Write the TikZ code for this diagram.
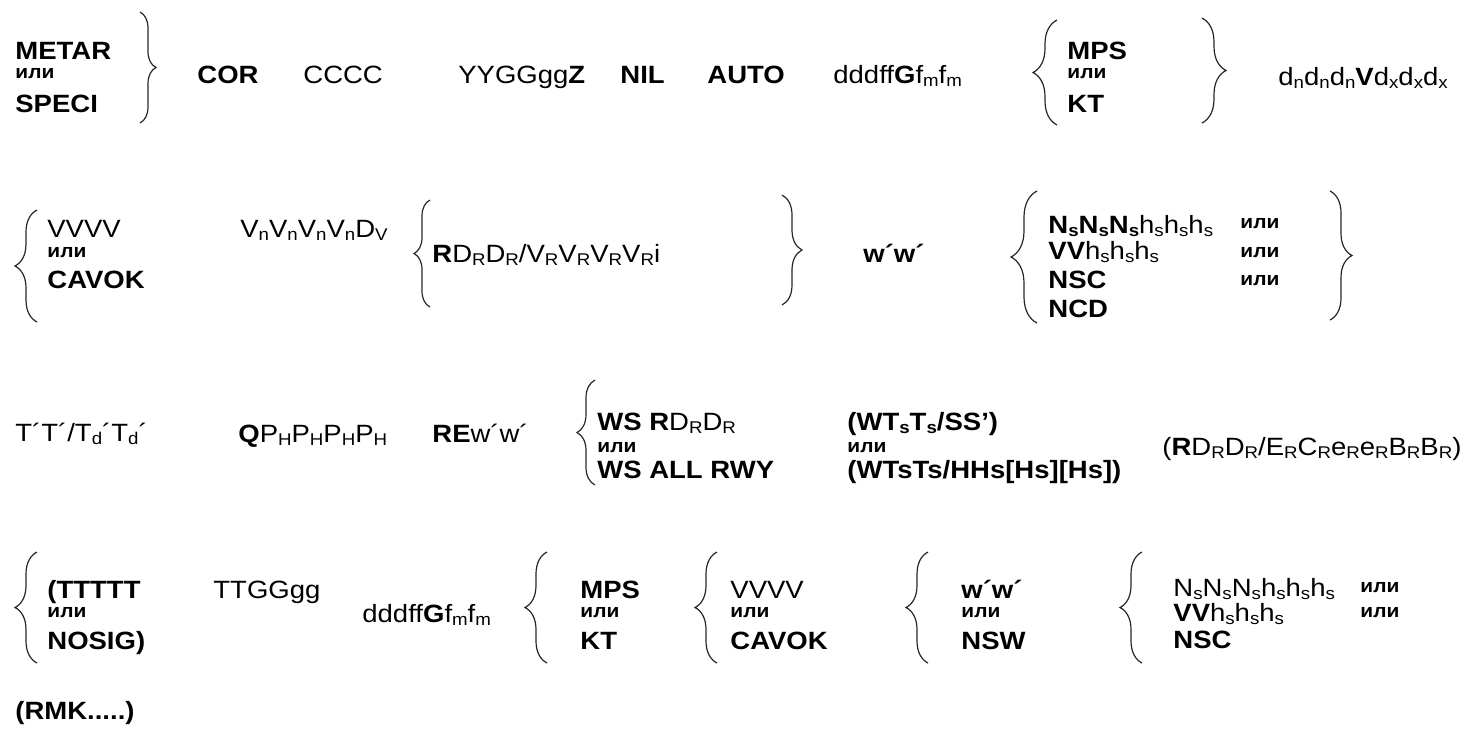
\documentclass[tikz,border=0pt]{standalone}
\usepackage{fontspec}
\setmainfont{Liberation Sans}[FakeStretch=1.1]
\usepackage{tikz}
\usetikzlibrary{decorations.pathreplacing}
% lowered index
\newcommand\lo[1]{\raisebox{-1.6pt}{\fontsize{8.5}{9}\selectfont #1}}
\tikzset{
  txt/.style={inner sep=0pt, anchor=base west, font=\fontsize{12.5}{15}\selectfont},
  bf/.style={txt, font=\fontsize{12.5}{15}\selectfont\bfseries},
  ili/.style={inner sep=0pt, anchor=base west, font=\fontsize{9.5}{11}\selectfont\bfseries},
  brc/.style={decorate, decoration={brace, amplitude=#1}, line width=0.6pt, draw=black!85},
  brc/.default=11pt
}
\begin{document}
\begin{tikzpicture}[x=0.5pt,y=-0.5pt]
\useasboundingbox (0,0) rectangle (1467,741);
% row 1
\node[bf] (metar) at (15,59) {METAR};
\node[ili] (or1) at (15,78) {или};
\node[bf] (speci) at (15,112) {SPECI};
\draw[brc=8pt] (140,12) -- (140,123);
\node[bf] (cor) at (197,83) {COR};
\node[txt] (cccc) at (303,83) {CCCC};
\node[txt] (yygg) at (458,83) {YYGGgg\textbf{Z}};
\node[bf] (nil) at (620,83) {NIL};
\node[bf] (auto) at (707,83) {AUTO};
\node[txt] (wind1) at (833,83) {dddff\textbf{G}f\lo{m}f\lo{m}};
\draw[brc=12pt] (1057,125) -- (1057,20);
\node[bf] (mps1) at (1067,59) {MPS};
\node[ili] (or2) at (1067,78) {или};
\node[bf] (kt1) at (1067,112) {KT};
\draw[brc=12pt] (1202,18) -- (1202,123);
\node[txt] (varw) at (1278,85) {d\lo{n}d\lo{n}d\lo{n}\textbf{V}d\lo{x}d\lo{x}d\lo{x}};
% row 2
\draw[brc=11pt] (37,322) -- (37,210);
\node[txt] (vis1) at (47,237) {VVVV};
\node[ili] (or3) at (47,257) {или};
\node[bf] (cavok1) at (47,288) {CAVOK};
\node[txt] (minvis) at (240,237) {V\lo{n}V\lo{n}V\lo{n}V\lo{n}D\lo{V}};
\draw[brc=8pt] (430,307) -- (430,200);
\node[txt] (rvr) at (432,262) {\textbf{R}D\lo{R}D\lo{R}/V\lo{R}V\lo{R}V\lo{R}V\lo{R}i};
\draw[brc=10pt] (782,195) -- (782,305);
\node[bf] (ww1) at (863,262) {w´w´};
\draw[brc=13pt] (1037,323) -- (1037,191);
\node[txt] (cld1) at (1048,233) {\textbf{N\lo{s}N\lo{s}N\lo{s}}h\lo{s}h\lo{s}h\lo{s}};
\node[txt] (vv1) at (1048,259) {\textbf{VV}h\lo{s}h\lo{s}h\lo{s}};
\node[bf] (nsc1) at (1048,288) {NSC};
\node[bf] (ncd) at (1048,317) {NCD};
\node[ili] (or4) at (1240,228) {или};
\node[ili] (or5) at (1240,257) {или};
\node[ili] (or6) at (1240,285) {или};
\draw[brc=11pt] (1330,191) -- (1330,320);
% row 3
\node[txt] (temp) at (15,441) {T´T´/T\lo{d}´T\lo{d}´};
\node[txt] (qnh) at (238,442) {\textbf{Q}P\lo{H}P\lo{H}P\lo{H}P\lo{H}};
\node[txt] (rew) at (432,442) {\textbf{RE}w´w´};
\draw[brc=9pt] (595,485) -- (595,380);
\node[txt] (ws1) at (597,430) {\textbf{WS R}D\lo{R}D\lo{R}};
\node[ili] (or7) at (597,452) {или};
\node[bf] (ws2) at (597,478) {WS ALL RWY};
\node[bf] (sst1) at (847,430) {(WT\lo{s}T\lo{s}/SS’)};
\node[ili] (or8) at (847,452) {или};
\node[bf] (sst2) at (847,478) {(WTsTs/HHs[Hs][Hs])};
\node[txt] (rwy) at (1162,455) {(\textbf{R}D\lo{R}D\lo{R}/E\lo{R}C\lo{R}e\lo{R}e\lo{R}B\lo{R}B\lo{R})};
% row 4
\draw[brc=11pt] (37,663) -- (37,552);
\node[bf] (tttt) at (47,598) {(TTTTT};
\node[ili] (or9) at (47,617) {или};
\node[bf] (nosig) at (47,649) {NOSIG)};
\node[txt] (ttgg) at (213,598) {TTGGgg};
\node[txt] (wind2) at (362,622) {dddff\textbf{G}f\lo{m}f\lo{m}};
\draw[brc=11pt] (547,663) -- (547,552);
\node[bf] (mps2) at (580,598) {MPS};
\node[ili] (or10) at (580,617) {или};
\node[bf] (kt2) at (580,649) {KT};
\draw[brc=11pt] (717,663) -- (717,552);
\node[txt] (vis2) at (730,598) {VVVV};
\node[ili] (or11) at (730,617) {или};
\node[bf] (cavok2) at (730,649) {CAVOK};
\draw[brc=11pt] (928,663) -- (928,552);
\node[bf] (ww2) at (961,598) {w´w´};
\node[ili] (or12) at (961,617) {или};
\node[bf] (nsw) at (961,649) {NSW};
\draw[brc=11pt] (1142,663) -- (1142,552);
\node[txt] (cld2) at (1173,596) {N\lo{s}N\lo{s}N\lo{s}h\lo{s}h\lo{s}h\lo{s}};
\node[txt] (vv2) at (1173,621) {\textbf{VV}h\lo{s}h\lo{s}h\lo{s}};
\node[bf] (nsc2) at (1173,648) {NSC};
\node[ili] (or13) at (1360,592) {или};
\node[ili] (or14) at (1360,617) {или};
% row 5
\node[bf] (rmk) at (15,719) {(RMK.....)};
\end{tikzpicture}
\end{document}
